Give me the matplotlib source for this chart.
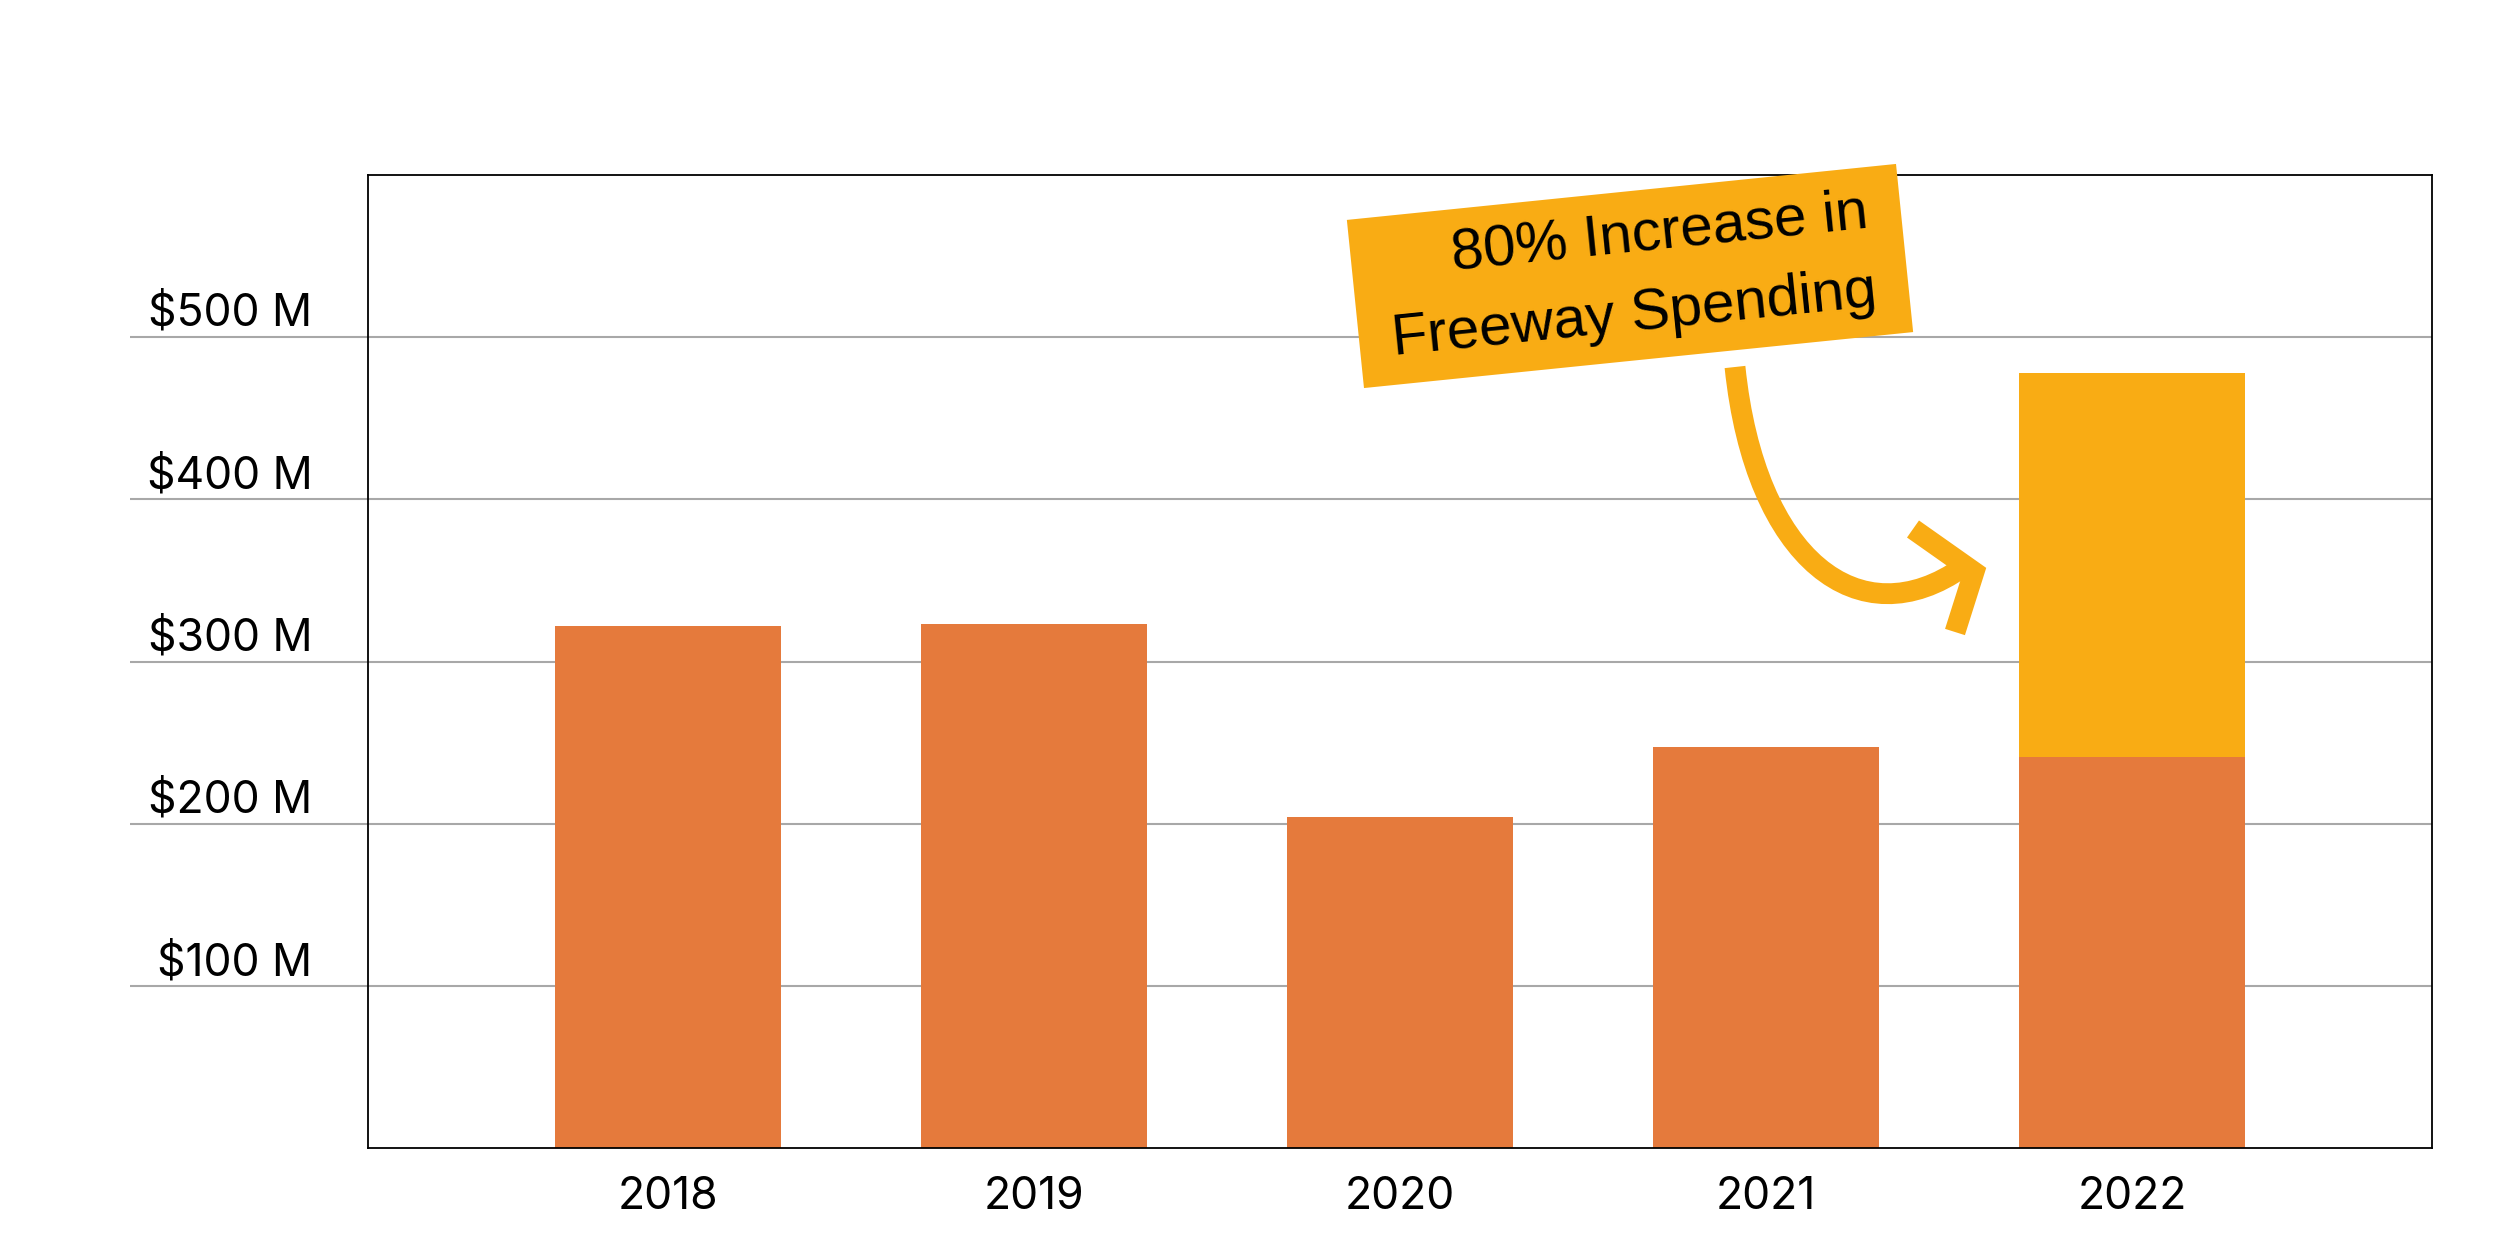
import matplotlib
matplotlib.use("Agg")
import matplotlib.pyplot as plt
from matplotlib.patches import Rectangle, PathPatch
from matplotlib.path import Path
from matplotlib.lines import Line2D
from matplotlib.transforms import Affine2D, ScaledTranslation

# ---------------- data ----------------
years = ["2018", "2019", "2020", "2021", "2022"]
base_spending = [322, 323, 204, 247, 241]      # $ M (orange)
freeway_increase = [0, 0, 0, 0, 237]           # $ M (yellow, stacked)
yticks = [100, 200, 300, 400, 500]
ylabels = ["$100 M", "$200 M", "$300 M", "$400 M", "$500 M"]
annotation = "80% Increase in\nFreeway Spending"

ORANGE = "#E57A3C"
YELLOW = "#F9AC14"
GRID = "#A8A8A8"

W, H = 2500, 1248
fig = plt.figure(figsize=(W / 100, H / 100), dpi=100)
fig.patch.set_facecolor("white")

left_px, right_px, top_px, bottom_px = 368, 2432, 174.75, 1148.25
ax = fig.add_axes([left_px / W, 1 - bottom_px / H,
                   (right_px - left_px) / W, (bottom_px - top_px) / H])

x = list(range(len(years)))
ax.bar(x, base_spending, width=0.62, color=ORANGE, linewidth=0, zorder=3)
ax.bar(x, freeway_increase, width=0.62, bottom=base_spending, color=YELLOW,
       linewidth=0, zorder=3)

ax.set_xlim(-0.8197, 4.8197)
ax.set_ylim(0, 600)

# grid lines extended to the left of the axes
ax.hlines(yticks, -0.1153, 1, transform=ax.get_yaxis_transform(),
          colors=GRID, linewidth=1.5, clip_on=False, zorder=1)

for s in ax.spines.values():
    s.set_color("black")
    s.set_linewidth(1.3)
    s.set_zorder(4)

tick_font = "Inter"
ax.set_xticks(x, labels=years)
ax.tick_params(axis="x", length=0, pad=20, labelsize=32)
for lbl in ax.get_xticklabels():
    lbl.set_fontfamily(tick_font)

ax.set_yticks(yticks, labels=ylabels)
ax.tick_params(axis="y", length=0, pad=40, labelsize=32)
off = ScaledTranslation(0, 0.11, fig.dpi_scale_trans)
for t in ax.yaxis.get_major_ticks():
    t.label1.set_fontfamily(tick_font)
    t.label1.set_verticalalignment("baseline")
    t.label1.set_transform(t.label1.get_transform() + off)

# ------------- annotation (in reference pixel space, y up) -------------
px = Affine2D().scale(1 / W, 1 / H) + fig.transFigure

cx, cy = 1630, H - 276
bw, bh, ang = 552, 169, 5.82
box = Rectangle((cx - bw / 2, cy - bh / 2), bw, bh, angle=ang,
                rotation_point="center", transform=px, facecolor=YELLOW,
                edgecolor="none", zorder=10)
fig.add_artist(box)
fig.text(cx / W, cy / H, annotation, ha="center", va="center",
         rotation=ang, rotation_mode="anchor", multialignment="right",
         fontsize=42, family="Liberation Sans", linespacing=1.6,
         color="black", zorder=11)

verts = [(1735, H - 367), (1755, H - 560), (1860, H - 640), (1963, H - 567)]
curve = PathPatch(Path(verts, [Path.MOVETO, Path.CURVE4, Path.CURVE4, Path.CURVE4]),
                  transform=px, facecolor="none", edgecolor=YELLOW,
                  linewidth=15, capstyle="butt", zorder=10)
fig.add_artist(curve)
head = Line2D([1913, 1974, 1955], [H - 529, H - 572, H - 632], transform=px,
              color=YELLOW, linewidth=15, solid_joinstyle="miter",
              solid_capstyle="butt", zorder=10)
fig.add_artist(head)

fig.savefig("out.png", dpi=100, facecolor="white")
